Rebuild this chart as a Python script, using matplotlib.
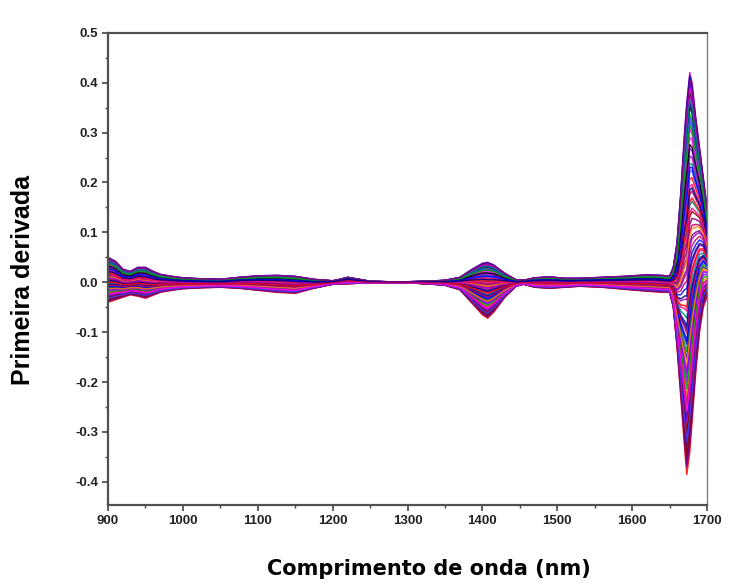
import matplotlib
matplotlib.use("Agg")
import matplotlib.pyplot as plt
from matplotlib.ticker import MultipleLocator, FormatStrFormatter

wl = [900, 910, 920, 930, 940, 950, 960, 970, 985, 1000, 1025, 1050, 1075, 1100,
      1125, 1150, 1175, 1200, 1210, 1220, 1235, 1250, 1275, 1300, 1325, 1350,
      1370, 1385, 1400, 1407, 1415, 1430, 1445, 1455, 1470, 1490, 1510, 1530,
      1560, 1590, 1620, 1640, 1650, 1655, 1660, 1665, 1670, 1673, 1677, 1680,
      1685, 1690, 1695, 1700]

# upper edge of the bundle of spectra
upper = [0.050, 0.042, 0.026, 0.022, 0.030, 0.030, 0.022, 0.016, 0.012, 0.009,
         0.007, 0.006, 0.010, 0.013, 0.014, 0.012, 0.006, 0.003, 0.006, 0.010,
         0.006, 0.002, 0.001, 0.001, 0.002, 0.004, 0.010, 0.025, 0.038, 0.040,
         0.035, 0.018, 0.005, 0.004, 0.009, 0.011, 0.008, 0.008, 0.010, 0.012,
         0.015, 0.014, 0.012, 0.030, 0.080, 0.180, 0.300, 0.360, 0.420, 0.400,
         0.330, 0.270, 0.210, 0.150]

# lower edge of the bundle of spectra
lower = [-0.040, -0.035, -0.030, -0.025, -0.028, -0.032, -0.026, -0.020, -0.016,
         -0.013, -0.011, -0.010, -0.012, -0.016, -0.020, -0.022, -0.012, -0.004,
         -0.003, -0.003, -0.002, -0.002, -0.001, -0.001, -0.003, -0.006, -0.015,
         -0.040, -0.065, -0.072, -0.060, -0.030, -0.008, -0.004, -0.010, -0.012,
         -0.010, -0.008, -0.010, -0.014, -0.018, -0.020, -0.020, -0.050, -0.130,
         -0.230, -0.330, -0.385, -0.340, -0.280, -0.180, -0.100, -0.050, -0.030]

# position of each sample spectrum inside the bundle (0 = lower edge, 1 = upper edge)
weights = [0.97, 0.12, 0.55, 0.83, 0.03, 0.68, 0.91, 0.25, 0.44, 0.76, 0.08, 0.62,
           1.00, 0.33, 0.18, 0.87, 0.50, 0.72, 0.06, 0.94, 0.39, 0.58, 0.15, 0.80,
           0.28, 0.65, 0.99, 0.10, 0.47, 0.89, 0.21, 0.74, 0.36, 0.00, 0.60, 0.85,
           0.31, 0.52, 0.95, 0.14, 0.70, 0.42, 0.92, 0.05, 0.78, 0.23, 0.57, 0.88,
           0.35, 0.66, 0.02, 0.96, 0.48, 0.19, 0.81, 0.27, 0.63, 0.93, 0.40, 0.11,
           0.54, 0.86, 0.30, 0.09, 0.75, 0.45, 0.98, 0.17, 0.69, 0.38]

colors = ["#0000FF", "#FF0000", "#800080", "#FF00FF", "#000080", "#C00060",
          "#000000", "#8000FF", "#FF0080", "#008080", "#0000A0", "#800000",
          "#A000C0", "#00A000", "#FF8000", "#4040FF"]

fig = plt.figure(figsize=(7.45, 5.85), dpi=100)
ax = fig.add_axes([0.145, 0.137, 0.804, 0.807])

for i, w in enumerate(weights):
    ys = [w * u + (1 - w) * l for u, l in zip(upper, lower)]
    ax.plot(wl, ys, color=colors[i % len(colors)], lw=1.1, alpha=0.85)

ax.set_xlim(900, 1700)
ax.set_ylim(-0.446, 0.5)
ax.xaxis.set_major_locator(MultipleLocator(100))
ax.xaxis.set_minor_locator(MultipleLocator(50))
ax.yaxis.set_major_locator(MultipleLocator(0.1))
ax.yaxis.set_minor_locator(MultipleLocator(0.05))
ax.yaxis.set_major_formatter(FormatStrFormatter("%.1f"))

ax.tick_params(which="major", direction="out", length=4, width=1.2,
               color="#444444", labelsize=9.5, pad=3)
ax.tick_params(which="minor", direction="out", length=2, width=1,
               color="#444444")
for lab in ax.get_xticklabels() + ax.get_yticklabels():
    lab.set_fontweight("bold")
    lab.set_fontfamily("Liberation Sans")
    lab.set_color("#222222")

for side in ["left", "bottom", "top"]:
    ax.spines[side].set_linewidth(1.6)
    ax.spines[side].set_color("#505050")
ax.spines["right"].set_linewidth(1.0)
ax.spines["right"].set_color("#808080")

ax.set_ylabel("Primeira derivada", fontsize=18, fontweight="bold",
              family="Liberation Sans")
ax.yaxis.set_label_coords(-0.122, 0.477)
ax.set_xlabel("Comprimento de onda (nm)", fontsize=15, fontweight="bold",
              family="DejaVu Sans")
ax.xaxis.set_label_coords(0.535, -0.115)

fig.savefig("out.png", dpi=100)
